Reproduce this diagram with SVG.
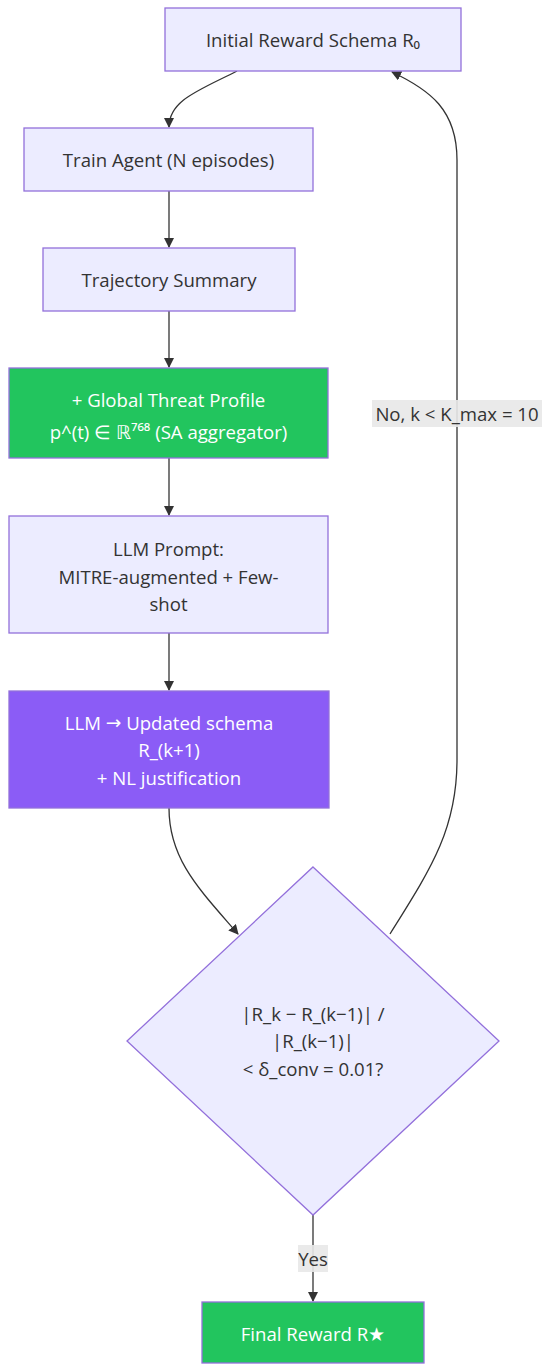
<svg xmlns="http://www.w3.org/2000/svg" width="550" height="1371" viewBox="0 0 550 1371">
<style>
text{font-family:"Open Sans","Liberation Sans",sans-serif;font-size:18.6px;text-anchor:middle;dominant-baseline:central;fill:#333}
.n{fill:#ECECFF;stroke:#9370DB;stroke-width:1.3}
.g{fill:#22C55E;stroke:#9370DB;stroke-width:1.3}
.p{fill:#8B5CF6;stroke:#9370DB;stroke-width:1.3}
.w{fill:#fff}
.e{fill:none;stroke:#333;stroke-width:1.3}
.lb{fill:#e8e8e8;opacity:0.9}
.dj{font-family:"DejaVu Sans",sans-serif}
</style>
<defs>
<marker id="ah" viewBox="0 0 10 10" refX="9" refY="5" markerWidth="10" markerHeight="10" markerUnits="userSpaceOnUse" orient="auto">
<path d="M0,0 L10,5 L0,10 z" fill="#333"/>
</marker>
</defs>
<g id="edges">
<path class="e" d="M237,71 C200,90 169,100 169,127" marker-end="url(#ah)"/>
<path class="e" d="M169,191 L169,247" marker-end="url(#ah)"/>
<path class="e" d="M169,311 L169,367" marker-end="url(#ah)"/>
<path class="e" d="M169,458 L169,515" marker-end="url(#ah)"/>
<path class="e" d="M169,633 L169,690" marker-end="url(#ah)"/>
<path class="e" d="M169,808 C169,860 200,890 238,934" marker-end="url(#ah)"/>
<path class="e" d="M390,934 C430,870 457,830 457,760 L457,160 C457,110 430,90 392,72" marker-end="url(#ah)"/>
<path class="e" d="M313,1215 L313,1301" marker-end="url(#ah)"/>
<rect class="lb" x="372" y="400" width="170" height="27"/>
<text x="457" y="413.5">No, k &lt; K_max = 10</text>
<rect class="lb" x="298" y="1245" width="30" height="27"/>
<text x="313" y="1258.5">Yes</text>
</g>
<g id="init"><rect class="n" x="165" y="8" width="296" height="63"/><text x="313" y="39.5">Initial Reward Schema R₀</text></g>
<g id="train"><rect class="n" x="24" y="128" width="289" height="63"/><text x="168.5" y="159.5">Train Agent (N episodes)</text></g>
<g id="traj"><rect class="n" x="43" y="248" width="252" height="63"/><text x="169" y="279.5">Trajectory Summary</text></g>
<g id="threat"><rect class="g" x="9" y="368" width="319" height="90"/><text class="w" x="168.5" y="399">+ Global Threat Profile</text><text class="w" x="168.5" y="431">p^(t) ∈ ℝ⁷⁶⁸ (SA aggregator)</text></g>
<g id="prompt"><rect class="n" x="9" y="516" width="319" height="117"/><text x="168.5" y="548">LLM Prompt:</text><text x="168.5" y="576">MITRE-augmented + Few-</text><text x="168.5" y="603">shot</text></g>
<g id="llm"><rect class="p" x="9" y="691" width="320" height="117"/><text class="w" x="169" y="722">LLM <tspan class="dj">→</tspan> Updated schema</text><text class="w" x="169" y="749">R_(k+1)</text><text class="w" x="169" y="777">+ NL justification</text></g>
<g id="conv"><path class="n" d="M313,867 L499,1041 L313,1215 L127,1041 Z"/><text x="313" y="1013">|R_k − R_(k−1)|  /</text><text x="313" y="1040">|R_(k−1)|</text><text x="313" y="1068">&lt; δ_conv = 0.01?</text></g>
<g id="final"><rect class="g" x="202" y="1302" width="222" height="61"/><text class="w" x="313" y="1333">Final Reward R★</text></g>
</svg>
